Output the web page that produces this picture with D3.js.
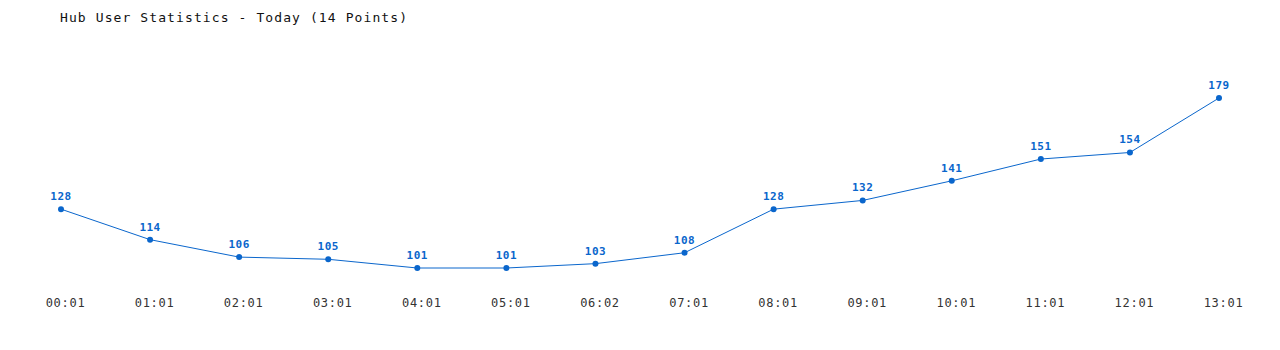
<!DOCTYPE html>
<html>
<head>
<meta charset="utf-8">
<script src="https://cdn.jsdelivr.net/npm/d3@7"></script>
<style>
    body { margin: 0; background: #fff; }
    svg { display: block; }
    .title { font-family: "DejaVu Sans Mono", monospace; font-size: 13px; letter-spacing: 1.1px; fill: #111; }
    .tick_label { font-family: "DejaVu Sans Mono", monospace; font-size: 12px; letter-spacing: 0.7px; fill: #333; }
    .value_label { font-family: "DejaVu Sans Mono", monospace; font-size: 11px; font-weight: bold; letter-spacing: 0.5px; fill: #0a66cc; }
</style>
</head>
<body>
<svg id="chart" width="1280" height="350"></svg>
<script>
let times = ["00:01", "01:01", "02:01", "03:01", "04:01", "05:01", "06:02",
    "07:01", "08:01", "09:01", "10:01", "11:01", "12:01", "13:01"];
let users = [128, 114, 106, 105, 101, 101, 103, 108, 128, 132, 141, 151, 154, 179];

let color = "#0a66cc";

let svg = d3.select("#chart");

let xScale = d3.scalePoint()
    .domain(times)
    .range([61, 1219]);

let yScale = d3.scaleLinear()
    .domain([d3.min(users), d3.max(users)])
    .range([268, 98]);

let line = d3.line()
    .x((d, i) => xScale(times[i]))
    .y(d => yScale(d));

svg.append("text")
    .attr("class", "title")
    .attr("x", 60)
    .attr("y", 22)
    .text("Hub User Statistics - Today (14 Points)");

svg.append("path")
    .attr("d", line(users))
    .attr("fill", "none")
    .attr("stroke", color)
    .attr("stroke-width", 1);

svg.append("g")
    .selectAll("circle")
    .data(users)
    .enter()
    .append("circle")
    .attr("cx", (d, i) => xScale(times[i]))
    .attr("cy", d => yScale(d))
    .attr("r", 3)
    .attr("fill", color);

svg.append("g")
    .selectAll(".value_label")
    .data(users)
    .enter()
    .append("text")
    .attr("class", "value_label")
    .attr("x", (d, i) => xScale(times[i]))
    .attr("y", d => yScale(d) - 9)
    .attr("text-anchor", "middle")
    .text(d => d);

// tick labels sit a few pixels right of their points
svg.append("g")
    .selectAll(".tick_label")
    .data(times)
    .enter()
    .append("text")
    .attr("class", "tick_label")
    .attr("x", d => xScale(d) + 4.5)
    .attr("y", 307)
    .attr("text-anchor", "middle")
    .text(d => d);
</script>
</body>
</html>
